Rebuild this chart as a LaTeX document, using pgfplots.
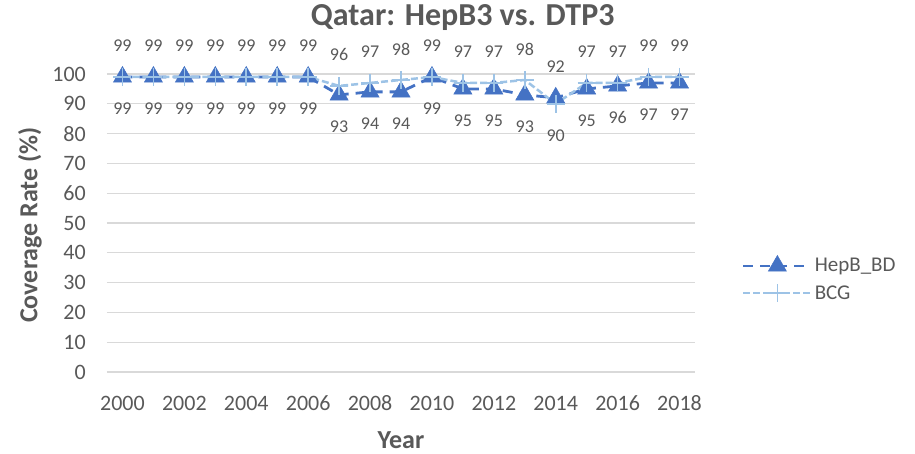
\documentclass[border=0pt]{standalone}
\usepackage{fontspec}
\setmainfont{Carlito}
\usepackage{pgfplots}
\pgfplotsset{compat=1.18}
\usepackage{pgfplotstable}
\definecolor{hepb}{HTML}{4472C4}
\definecolor{bcg}{HTML}{9DC3E6}
\definecolor{txt}{HTML}{595959}
\definecolor{grd}{HTML}{D9D9D9}

\pgfplotstableread{
x y off
2000 99 -32
2001 99 -32
2002 99 -32
2003 99 -32
2004 99 -32
2005 99 -32
2006 99 -32
2007 93 -32
2008 94 -32
2009 94 -32
2010 99 -32
2011 95 -32
2012 95 -32
2013 93 -32
2014 92 31
2015 95 -32
2016 96 -32
2017 97 -32
2018 97 -32
}\hepbtab

\pgfplotstableread{
x y off
2000 99 31
2001 99 31
2002 99 31
2003 99 31
2004 99 31
2005 99 31
2006 99 31
2007 96 31
2008 97 31
2009 98 31
2010 99 31
2011 97 31
2012 97 31
2013 98 31
2014 90 -32
2015 97 31
2016 97 31
2017 99 31
2018 99 31
}\bcgtab

\begin{document}
\begin{tikzpicture}
\useasboundingbox (-107pt,-81pt) rectangle (808pt,372pt);
\begin{axis}[
  at={(0pt,0pt)}, anchor=south west,
  scale only axis, width=588pt, height=298pt,
  xmin=1999.5, xmax=2018.5, ymin=0, ymax=100,
  xtick={2000,2002,...,2018}, ytick={0,10,...,100},
  ymajorgrids, major grid style={grd, line width=1.3pt},
  axis line style={draw=none}, major tick length=0pt,
  clip=false,
  /pgf/number format/assume math mode=true,
  tick label style={font=\fontsize{22}{22}\selectfont, text=txt},
  x tick label style={/pgf/number format/1000 sep={}},
  xticklabel style={anchor=center, yshift=-31pt},
  yticklabel style={anchor=east, inner sep=0pt, xshift=-21pt},
  title={Qatar: HepB3 vs. DTP3},
  title style={at={(axis description cs:0.605,1.19)}, anchor=center, yshift=-6pt, font=\bfseries\fontsize{32}{32}\selectfont, text=txt},
  ylabel={Coverage Rate (\%)},
  ylabel style={at={(axis description cs:-0.131,0.493)}, anchor=center, font=\bfseries\fontsize{26}{26}\selectfont, text=txt},
  xlabel={Year},
  xlabel style={at={(axis description cs:0.5,-0.228)}, anchor=center, font=\bfseries\fontsize{26}{26}\selectfont, text=txt},
  legend style={at={(axis description cs:1.0799,0.312)}, anchor=west, draw=none, fill=none,
    font=\fontsize{21}{21}\selectfont, text=txt, inner sep=0pt, outer sep=0pt, row sep=8pt,
    nodes={inner sep=2pt}},
  legend cell align=left,
  /tikz/every even column/.append style={column sep=3pt},
  legend image code/.code={\draw[mark repeat=2,mark phase=2,#1] plot coordinates {(0pt,0pt)(34pt,0pt)(68pt,0pt)};},
]
\addplot[hepb, line width=2.8pt, dash pattern=on 10pt off 7pt, mark=triangle*, mark size=10.5pt,
  mark options={solid, fill=hepb, draw=hepb, line width=0.5pt},
  nodes near coords, point meta=explicit symbolic,
  visualization depends on={\thisrow{off}\as\labeloff},
  every node near coord/.append style={anchor=center, yshift=\labeloff pt, font=\fontsize{18}{18}\selectfont, text=txt, inner sep=0pt}]
  table[x=x, y=y, meta=y] {\hepbtab};
\addlegendentry{HepB\_BD}
\addplot[bcg, line width=2.5pt, dash pattern=on 7pt off 3pt, mark=+, mark size=9pt,
  mark options={solid, line width=1.6pt},
  nodes near coords, point meta=explicit symbolic,
  visualization depends on={\thisrow{off}\as\labeloff},
  every node near coord/.append style={anchor=center, yshift=\labeloff pt, font=\fontsize{18}{18}\selectfont, text=txt, inner sep=0pt}]
  table[x=x, y=y, meta=y] {\bcgtab};
\addlegendentry{BCG}
\end{axis}
\end{tikzpicture}
\end{document}
